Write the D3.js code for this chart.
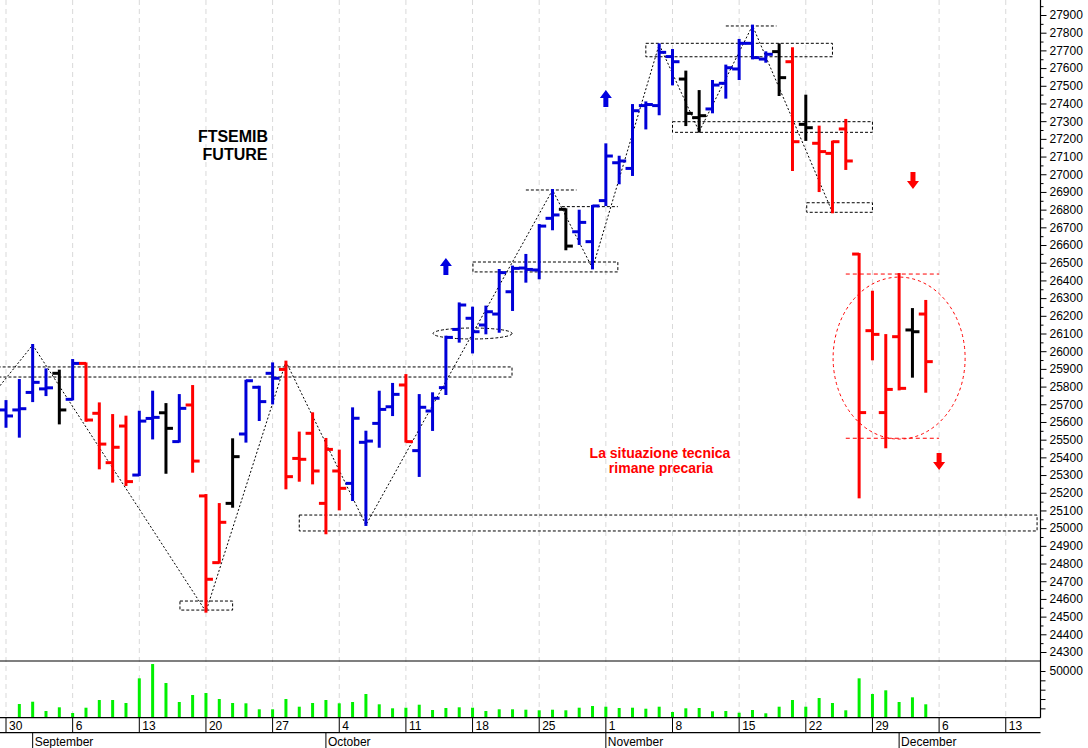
<!DOCTYPE html>
<html><head><meta charset="utf-8">
<script src="https://cdn.jsdelivr.net/npm/d3@7"></script>
<style>
body{margin:0;background:#fff}
svg{display:block}
text{font-family:"Liberation Sans",Arial,sans-serif}
</style>
</head><body>
<svg id="chart" width="1088" height="748"></svg>
<script>
// ---- DATA (trading days from Mon 30 Aug 2021, index 0..69) ----
const opens  = [25668,25668,25767,25787,25875,25728,25931,25649,25370,25577,
                25300,25620,25652,25489,25696,25182,24805,25140,25532,25796,
                25875,25897,25394,25536,25140,25323,25253,25485,25592,25686,
                25809,25438,25662,25794,26123,26186,26148,26210,26336,26470,
                26459,26751,26802,26675,26619,26851,27065,27033,27388,27388,
                27665,27538,27320,27369,27514,27595,27740,27651,27693,27636,
                27282,27175,27118,27256,26549,26116,25653,26082,26120,26210];
const highs  = [25718,25837,26035,25897,25890,25950,25931,25705,25639,25630,
                25658,25771,25701,25752,25803,25187,25136,25502,25833,25799,
                25931,25941,25540,25649,25504,25438,25677,25545,25771,25815,
                25865,25752,25762,26082,26270,26246,26252,26459,26478,26544,
                26713,26911,26802,26794,26821,27169,27099,27391,27406,27734,
                27702,27580,27470,27527,27614,27759,27840,27689,27734,27712,
                27444,27269,27184,27307,26549,26336,26091,26436,26238,26284];
const lows   = [25573,25517,25718,25752,25592,25728,25607,25338,25263,25244,
                25300,25507,25313,25489,25319,24528,24805,25121,25489,25611,
                25705,25225,25268,25253,24971,25106,25159,25018,25460,25639,
                25489,25295,25555,25758,26054,25993,26101,26110,26233,26393,
                26412,26689,26576,26606,26468,26826,26949,26996,27259,27339,
                27508,27278,27241,27350,27433,27538,27655,27636,27448,27024,
                27194,26905,26785,27030,25174,25954,25457,25784,25856,25771];
const closes = [25634,25675,25824,25793,25668,25931,25611,25475,25457,25263,
                25605,25626,25564,25677,25379,24711,25033,25404,25833,25715,
                25847,25291,25389,25323,25445,25225,25621,25492,25671,25756,
                25489,25683,25734,26078,26261,26110,26223,26444,26468,26462,
                26707,26770,26594,26728,26821,27103,27075,27359,27394,27689,
                27636,27344,27331,27504,27602,27740,27659,27678,27546,27184,
                27263,27128,27184,27075,25653,26095,25784,25790,26110,25941];
// trend colour code per bar: B = blue, R = red, K = black
const trend  = ["B","B","B","B","K","B","R","R","R","R",
                "B","B","K","B","R","R","R","K","B","B",
                "B","R","R","R","R","R","B","B","B","B",
                "R","B","B","B","B","B","B","B","B","B",
                "B","B","K","B","B","B","B","B","B","B",
                "B","K","K","B","B","B","B","B","K","R",
                "K","R","R","R","R","R","R","R","K","R"];
const volumes = [500,14660,17120,7170,11130,5030,10700,18940,18940,15730,
                 42160,57460,37130,16800,24290,26430,20010,15730,15410,8990,
                 8990,20010,11770,15730,18940,15410,16800,25360,14340,10060,
                 10700,13910,8240,10380,11130,10700,7170,8990,8990,8560,
                 7920,8560,7920,10700,12520,11770,10380,10700,9630,11770,
                 6100,10060,10380,6850,7170,5350,8240,4710,11770,18940,
                 11770,21080,15730,7920,42160,25360,29320,16800,21830,14340];
// week ticks (Mondays) and month starts, as bar indices
const weekIdx    = [0,5,10,15,20,25,30,35,40,45,50,55,60,65,70,75];
const weekLabels = ["30","6","13","20","27","4","11","18","25","1","8","15","22","29","6","13"];
const monthIdx    = [2,24,45,67];
const monthLabels = ["September","October","November","December"];
const priceTicks = d3.range(24300, 27901, 100);
const volTicks = [10000,20000,30000,40000,50000];
// annotations (index, price)
const zigzag = [[-0.45,25805],[2,26035],[15,24528],[21,25941],[27,25018],[41,26911],[44,26468],[49,27734],[52,27241],[56,27840],[62,26785]];
const boxes = [[-1,37.96,25911,25854],[13.05,17.0,24588,24537],[22.0,77.35,25074,24984],
               [35.03,45.9,26504,26448],[48.0,62.0,27740,27664],[50.0,65.0,27297,27237],[60.07,65.0,26839,26785]];
const hlines = [[39.0,42.8,26911],[41.7,45.9,26817],[54.0,57.8,27838]];
const redLines = [[63.0,70.0,26436],[63.0,70.0,25508]];
const upArrows = [[33.0,26527],[45.0,27476]];
const downArrows = [[68.04,27013],[70.0,25425]];

// ---- LAYOUT ----
const svg = d3.select("#chart");
const W = 1088, plotR = 1040.5, priceBottom = 661, volBottom = 717.7, rowBottom = 732.7;
const x = d3.scaleLinear().domain([0,69]).range([6, 6+69*13.33]);
const y = d3.scaleLinear().domain([24300,27900]).range([652,15]);
const yv = d3.scaleLinear().domain([0,50000]).range([volBottom,671]);
const col = {B:"#0000d8", R:"#ff0000", K:"#000000"};

svg.append("rect").attr("width",W).attr("height",748).attr("fill","#fff");
const defs = svg.append("defs");
defs.append("clipPath").attr("id","pclip").append("rect").attr("x",0).attr("y",0).attr("width",plotR).attr("height",priceBottom);

// grid
svg.append("g").selectAll("line").data(weekIdx).join("line")
  .attr("x1",d=>x(d)).attr("x2",d=>x(d)).attr("y1",0).attr("y2",volBottom)
  .attr("stroke","#d9d9d9").attr("stroke-dasharray","5,4").attr("stroke-width",1);

const P = svg.append("g").attr("clip-path","url(#pclip)");

// annotation boxes
P.append("g").selectAll("rect").data(boxes).join("rect")
  .attr("x",d=>x(d[0])).attr("width",d=>x(d[1])-x(d[0]))
  .attr("y",d=>y(d[2])).attr("height",d=>y(d[3])-y(d[2]))
  .attr("fill","none").attr("stroke","#000").attr("stroke-width",1).attr("stroke-dasharray","3,2");
P.append("g").selectAll("line").data(hlines).join("line")
  .attr("x1",d=>x(d[0])).attr("x2",d=>x(d[1])).attr("y1",d=>y(d[2])).attr("y2",d=>y(d[2]))
  .attr("stroke","#000").attr("stroke-dasharray","3,2");
P.append("ellipse").attr("cx",x(35.0)).attr("cy",y(26100)).attr("rx",39.5).attr("ry",5.5)
  .attr("fill","none").attr("stroke","#000").attr("stroke-dasharray","3,2");
P.append("g").selectAll("line").data(redLines).join("line")
  .attr("x1",d=>x(d[0])).attr("x2",d=>x(d[1])).attr("y1",d=>y(d[2])).attr("y2",d=>y(d[2]))
  .attr("stroke","#ff0000").attr("stroke-dasharray","4,3");
P.append("ellipse").attr("cx",x(67.0)).attr("cy",y(25961)).attr("rx",66).attr("ry",81)
  .attr("fill","none").attr("stroke","#ff0000").attr("stroke-dasharray","3,3");
// zigzag
P.append("path").datum(zigzag)
  .attr("d",d3.line().x(d=>x(d[0])).y(d=>y(d[1])))
  .attr("fill","none").attr("stroke","#000").attr("stroke-width",1).attr("stroke-dasharray","2,2");

// OHLC bars
const idx = d3.range(opens.length);
const bars = P.append("g").selectAll("g").data(idx).join("g").attr("stroke",i=>col[trend[i]]).attr("stroke-width",3);
bars.append("line").attr("x1",i=>x(i)).attr("x2",i=>x(i)).attr("y1",i=>y(highs[i])-1).attr("y2",i=>y(lows[i])+1);
bars.append("line").attr("x1",i=>x(i)-7).attr("x2",i=>x(i)).attr("y1",i=>y(opens[i])).attr("y2",i=>y(opens[i]));
bars.append("line").attr("x1",i=>x(i)).attr("x2",i=>x(i)+7).attr("y1",i=>y(closes[i])).attr("y2",i=>y(closes[i]));

// arrows
function arrowPath(cx, top, dir){
  const t = top, h = 17, hh = 8;
  if (dir>0) return `M${cx},${t} L${cx+6},${t+hh} L${cx+2.5},${t+hh} L${cx+2.5},${t+h} L${cx-2.5},${t+h} L${cx-2.5},${t+hh} L${cx-6},${t+hh} Z`;
  return `M${cx},${t+h} L${cx+6},${t+h-hh} L${cx+2.5},${t+h-hh} L${cx+2.5},${t} L${cx-2.5},${t} L${cx-2.5},${t+h-hh} L${cx-6},${t+h-hh} Z`;
}
P.append("g").selectAll("path").data(upArrows).join("path").attr("d",d=>arrowPath(x(d[0]),y(d[1]),1)).attr("fill","#0000e0");
P.append("g").selectAll("path").data(downArrows).join("path").attr("d",d=>arrowPath(x(d[0]),y(d[1]),-1)).attr("fill","#ff0000");

// texts
const T = svg.append("g");
T.append("text").attr("x",233).attr("y",142).attr("text-anchor","middle").attr("font-weight","bold").attr("font-size",16).text("FTSEMIB");
T.append("text").attr("x",235).attr("y",160).attr("text-anchor","middle").attr("font-weight","bold").attr("font-size",16).text("FUTURE");
T.append("text").attr("x",660).attr("y",458).attr("text-anchor","middle").attr("font-weight","bold").attr("font-size",14).attr("fill","#ff0000").text("La situazione tecnica");
T.append("text").attr("x",661).attr("y",472.5).attr("text-anchor","middle").attr("font-weight","bold").attr("font-size",14).attr("fill","#ff0000").text("rimane precaria");

// volume bars
svg.append("g").selectAll("rect").data(idx).join("rect")
  .attr("x",i=>x(i)-1.5).attr("width",3)
  .attr("y",i=>yv(volumes[i])).attr("height",i=>volBottom-yv(volumes[i]))
  .attr("fill","#00f000");

// frame lines
const F = svg.append("g").attr("stroke","#000").attr("stroke-width",1.2);
F.append("line").attr("x1",0).attr("x2",plotR).attr("y1",priceBottom).attr("y2",priceBottom);
F.append("line").attr("x1",0).attr("x2",plotR).attr("y1",volBottom).attr("y2",volBottom);
F.append("line").attr("x1",0).attr("x2",plotR).attr("y1",rowBottom).attr("y2",rowBottom);
F.append("line").attr("x1",plotR).attr("x2",plotR).attr("y1",0).attr("y2",volBottom);

// price axis
const ax = svg.append("g").attr("transform",`translate(${plotR},0)`)
  .call(d3.axisRight(y).tickValues(priceTicks).tickSize(6).tickPadding(3).tickFormat(d3.format("d")));
ax.select(".domain").remove();
ax.selectAll("text").attr("font-size",12).attr("fill","#000").attr("font-family","'Liberation Sans',Arial,sans-serif");
const axm = svg.append("g").attr("transform",`translate(${plotR},0)`)
  .call(d3.axisRight(y).tickValues(priceTicks.map(v=>v+50)).tickSize(3).tickFormat(""));
axm.select(".domain").remove();
// volume axis
const va = svg.append("g").attr("transform",`translate(${plotR},0)`)
  .call(d3.axisRight(yv).tickValues(volTicks).tickSize(5).tickPadding(4).tickFormat(d=>d===50000?"50000":""));
va.select(".domain").remove();
va.selectAll("text").attr("font-size",12).attr("fill","#000").attr("font-family","'Liberation Sans',Arial,sans-serif");

// date rows
const D = svg.append("g");
D.selectAll("line.w").data(weekIdx).join("line").attr("class","w")
  .attr("x1",d=>x(d)).attr("x2",d=>x(d)).attr("y1",volBottom).attr("y2",rowBottom).attr("stroke","#000");
D.selectAll("text.w").data(weekIdx).join("text").attr("class","w")
  .attr("x",d=>x(d)+3).attr("y",729.5).attr("font-size",12).text((d,i)=>weekLabels[i]);
D.selectAll("line.m").data(monthIdx).join("line").attr("class","m")
  .attr("x1",d=>x(d)).attr("x2",d=>x(d)).attr("y1",rowBottom).attr("y2",748).attr("stroke","#000");
D.selectAll("text.m").data(monthIdx).join("text").attr("class","m")
  .attr("x",d=>x(d)+2).attr("y",745.5).attr("font-size",12).text((d,i)=>monthLabels[i]);
</script>
</body></html>
